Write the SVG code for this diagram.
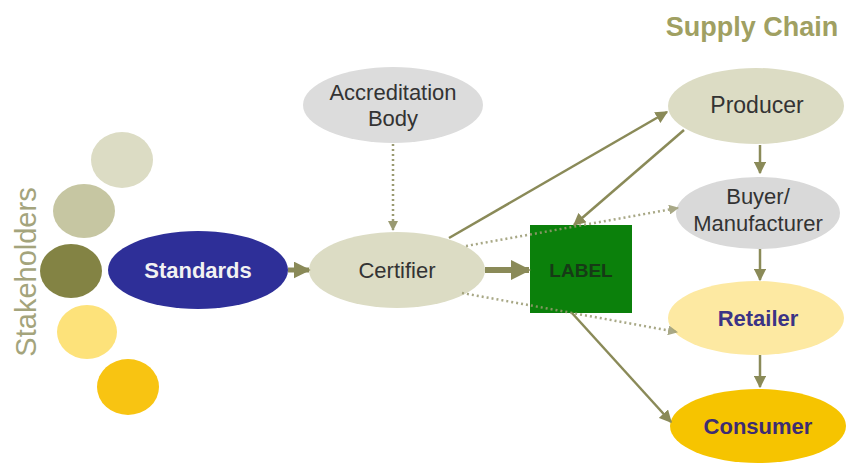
<svg xmlns="http://www.w3.org/2000/svg" width="847" height="464" viewBox="0 0 847 464">
<style>
.t{font-family:"Liberation Sans",Arial,sans-serif;font-size:22px;fill:#333;text-anchor:middle}
.b{font-weight:bold}
.ln{stroke:#8a8a58;stroke-width:2.5;fill:none}
.dt{stroke:#9a9a72;stroke-width:2.5;fill:none;stroke-dasharray:2 3}
</style>
<defs>
<marker id="ah" viewBox="0 0 10 10" refX="9" refY="5" markerWidth="5" markerHeight="5" orient="auto" markerUnits="strokeWidth"><path d="M0,0 L10,5 L0,10 z" fill="#8a8a58"/></marker>
<marker id="ahb" viewBox="0 0 10 10" refX="9" refY="5" markerWidth="3.4" markerHeight="3.4" orient="auto" markerUnits="strokeWidth"><path d="M0,0 L10,5 L0,10 z" fill="#8a8a58"/></marker>
<marker id="ahd" viewBox="0 0 10 10" refX="9" refY="5" markerWidth="4" markerHeight="4" orient="auto" markerUnits="strokeWidth"><path d="M0,0 L10,5 L0,10 z" fill="#9a9a72"/></marker>
</defs>
<rect width="847" height="464" fill="#fff"/>
<text class="t" transform="translate(36,272) rotate(-90)" style="font-size:29px;fill:#a4a47c">Stakeholders</text>
<text class="t b" x="752" y="36" style="font-size:27px;fill:#a0a062">Supply Chain</text>
<g id="stakeholder-circles">
<ellipse cx="122" cy="160" rx="31" ry="28" fill="#dcdcc4"/>
<ellipse cx="84" cy="211" rx="31" ry="27" fill="#c6c6a2"/>
<ellipse cx="71" cy="271" rx="31" ry="27" fill="#838344"/>
<ellipse cx="87" cy="332" rx="30" ry="27" fill="#fde27a"/>
<ellipse cx="128" cy="387" rx="31" ry="28" fill="#f8c412"/>
</g>
<g id="standards">
<ellipse cx="198" cy="270" rx="90" ry="39" fill="#2e2f98"/>
<text class="t b" x="198" y="278" style="font-size:22px;fill:#f2f2f2">Standards</text>
</g>
<g id="accreditation">
<ellipse cx="393" cy="105" rx="90" ry="38" fill="#dcdcdc"/>
<text class="t" x="393" y="100">Accreditation</text>
<text class="t" x="393" y="126">Body</text>
</g>
<g id="certifier">
<ellipse cx="397" cy="270" rx="88" ry="38" fill="#dcdcc4"/>
<text class="t" x="397" y="278">Certifier</text>
</g>
<g id="label">
<rect x="530" y="225" width="102" height="88" fill="#0b800b"/>
<text class="t b" x="581" y="277" style="font-size:19px;fill:#163a16">LABEL</text>
</g>
<g id="producer">
<ellipse cx="756" cy="106" rx="88" ry="38" fill="#dcdcc4"/>
<text class="t" x="757" y="113" style="font-size:23px">Producer</text>
</g>
<g id="buyer">
<ellipse cx="758" cy="213" rx="82" ry="36" fill="#d9d9d9"/>
<text class="t" x="758" y="204">Buyer/</text>
<text class="t" x="758" y="231">Manufacturer</text>
</g>
<g id="retailer">
<ellipse cx="756" cy="318" rx="88" ry="37" fill="#fde9a2"/>
<text class="t b" x="758" y="326" style="fill:#3b3385">Retailer</text>
</g>
<g id="consumer">
<ellipse cx="758" cy="426" rx="88" ry="37" fill="#f6c400"/>
<text class="t b" x="758" y="434" style="fill:#3d2c72">Consumer</text>
</g>
<g id="connectors">
<line class="ln" x1="288" y1="270" x2="309" y2="270" style="stroke-width:5" marker-end="url(#ahb)"/>
<line class="ln" x1="485" y1="270" x2="529" y2="270" style="stroke-width:6" marker-end="url(#ahb)"/>
<line class="dt" x1="393" y1="144" x2="393" y2="230" marker-end="url(#ahd)"/>
<line class="ln" x1="449" y1="238" x2="667" y2="112" marker-end="url(#ah)"/>
<line class="ln" x1="684" y1="130" x2="574" y2="225" marker-end="url(#ah)"/>
<line class="dt" x1="466" y1="246" x2="678" y2="208" marker-end="url(#ahd)" style="opacity:0.85"/>
<line class="dt" x1="462" y1="293" x2="677" y2="332" marker-end="url(#ahd)" style="opacity:0.85"/>
<line class="ln" x1="572" y1="313" x2="671" y2="422" marker-end="url(#ah)"/>
<line class="ln" x1="760" y1="145" x2="760" y2="173" marker-end="url(#ah)"/>
<line class="ln" x1="760" y1="249" x2="760" y2="280" marker-end="url(#ah)"/>
<line class="ln" x1="760" y1="355" x2="760" y2="387" marker-end="url(#ah)"/>
</g>
</svg>
